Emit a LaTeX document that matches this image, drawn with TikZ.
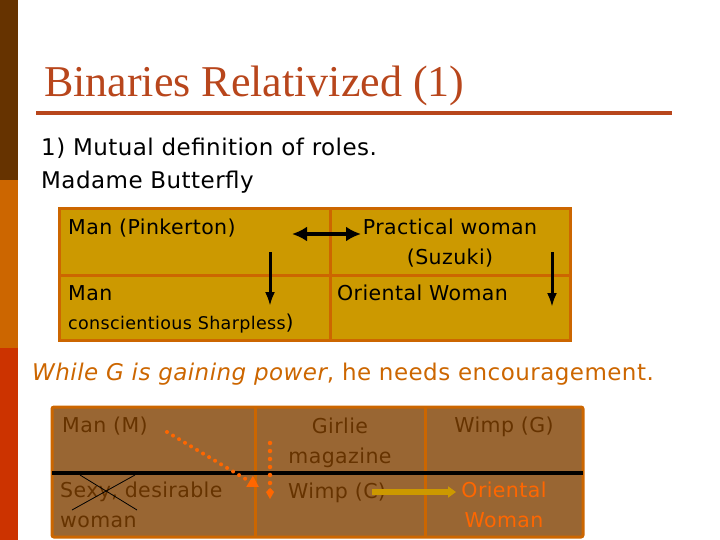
\documentclass[tikz,border=0pt]{standalone}
\usepackage{fontspec}
\setmainfont{Liberation Serif}
\newfontfamily\slidefont[LetterSpace=2]{DejaVu Sans}
\usetikzlibrary{arrows.meta,positioning}
\definecolor{barbrown}{HTML}{663300}
\definecolor{barorange}{HTML}{CC6600}
\definecolor{barred}{HTML}{CC3300}
\definecolor{titlered}{HTML}{B8461C}
\definecolor{goldfill}{HTML}{CC9900}
\definecolor{brownfill}{HTML}{996633}
\definecolor{celltext}{HTML}{663300}
\definecolor{hotorange}{HTML}{FF6600}

\begin{document}
\begin{tikzpicture}[x=1pt, y=-1pt, >=Latex, every node/.style={inner sep=0pt, align=center},
  bodytext/.style={anchor=base west, font=\slidefont\fontsize{23}{30}\selectfont},
  cellone/.style={anchor=base west, font=\slidefont\fontsize{20.5}{29}\selectfont},
  celltwo/.style={anchor=base, text=celltext, font=\slidefont\fontsize{20.5}{30}\selectfont},
  tableline/.style={draw=barorange, line width=3pt}]
\useasboundingbox (0,0) rectangle (720,540);
% side bar
\fill[barbrown] (0,0) rectangle (18,180);
\fill[barorange] (0,180) rectangle (18,348);
\fill[barred] (0,348) rectangle (18,540);

% title and intro
\node[anchor=base west, text=titlered, font=\fontsize{44}{44}\selectfont] (title) at (44,97) {Binaries Relativized (1)};
\draw[titlered, line width=3.5pt] (36,113) -- (672,113);
\node[bodytext] (intro) at (41,156) {1) Mutual definition of roles.};
\node[bodytext] (opera) at (41,189) {Madame Butterfly};

% first table
\draw[tableline, fill=goldfill] (59,209) rectangle (570,340);
\draw[tableline] (59,275) -- (570,275);
\draw[tableline] (330,209) -- (330,340);
\node[cellone] (manpk) at (68,235) {Man (Pinkerton)};
\node[cellone, anchor=base] (practical) at (450,264) {Practical woman\\(Suzuki)};
\node[cellone] (mancs) at (68,300) {Man};
\node[cellone] (sharpless) at (68,329) {{\fontsize{17.5}{20}\selectfont conscientious Sharpless})};
\node[cellone] (oriental) at (337,300) {Oriental Woman};
\coordinate (pkend) at (292,234);
\coordinate (szend) at (361,234);
\draw[{Latex[length=15pt,width=15pt]}-{Latex[length=15pt,width=15pt]}, line width=4pt] (pkend) -- (szend);
\coordinate (mantop) at (270,252);
\coordinate (manbot) at (270,306);
\draw[-{Latex[length=14pt,width=10pt]}, line width=3pt] (mantop) -- (manbot);
\coordinate (womtop) at (552,252);
\coordinate (wombot) at (552,307);
\draw[-{Latex[length=14pt,width=10pt]}, line width=3pt] (womtop) -- (wombot);

% remark
\node[anchor=base west, text=barorange, font=\slidefont\fontsize{23}{30}\selectfont] (remark) at (32,380)
  {\itshape While G is gaining power\upshape, he needs encouragement.};

% second table
\draw[tableline, fill=brownfill, rounded corners=2pt] (52,407) rectangle (583,537);
\draw[tableline] (255,407) -- (255,537);
\draw[tableline] (425,407) -- (425,537);
\draw[line width=4pt] (52,473) -- (583,473);
\node[celltwo, anchor=base west] (manm) at (62,432) {Man (M)};
\node[celltwo] (girlie) at (340,463) {Girlie\\magazine};
\node[celltwo] (wimpg) at (504,432) {Wimp (G)};
\node[celltwo, anchor=base west, align=left] (sexy) at (60,527) {Sexy, desirable\\woman};
\node[celltwo, anchor=base west] (wimpc) at (288,498) {Wimp (C)};
\node[celltwo, text=hotorange] (orient) at (504,527) {Oriental\\Woman};
% crossed out
\coordinate (xa) at (80,475);
\coordinate (xb) at (137,510);
\coordinate (xc) at (135,475);
\coordinate (xd) at (72,510);
\draw[line width=0.8pt] (xa) -- (xb);
\draw[line width=0.8pt] (xc) -- (xd);
% moves
\coordinate (mfrom) at (167,432);
\coordinate (mto) at (259,487);
\draw[hotorange, line width=4pt, line cap=round, dash pattern=on 0pt off 7pt, -{Triangle[length=11pt,width=12pt]}] (mfrom) -- (mto);
\coordinate (gfrom) at (270,443);
\coordinate (gto) at (270,499);
\draw[hotorange, line width=4.5pt, line cap=round, dash pattern=on 0pt off 8pt, -{Kite[length=11pt,width=8pt,inset=4pt]}] (gfrom) -- (gto);
\coordinate (cfrom) at (372,492);
\coordinate (cto) at (456,492);
\draw[goldfill, line width=6pt, -{Triangle[length=8pt,width=11pt]}] (cfrom) -- (cto);
\end{tikzpicture}
\end{document}
